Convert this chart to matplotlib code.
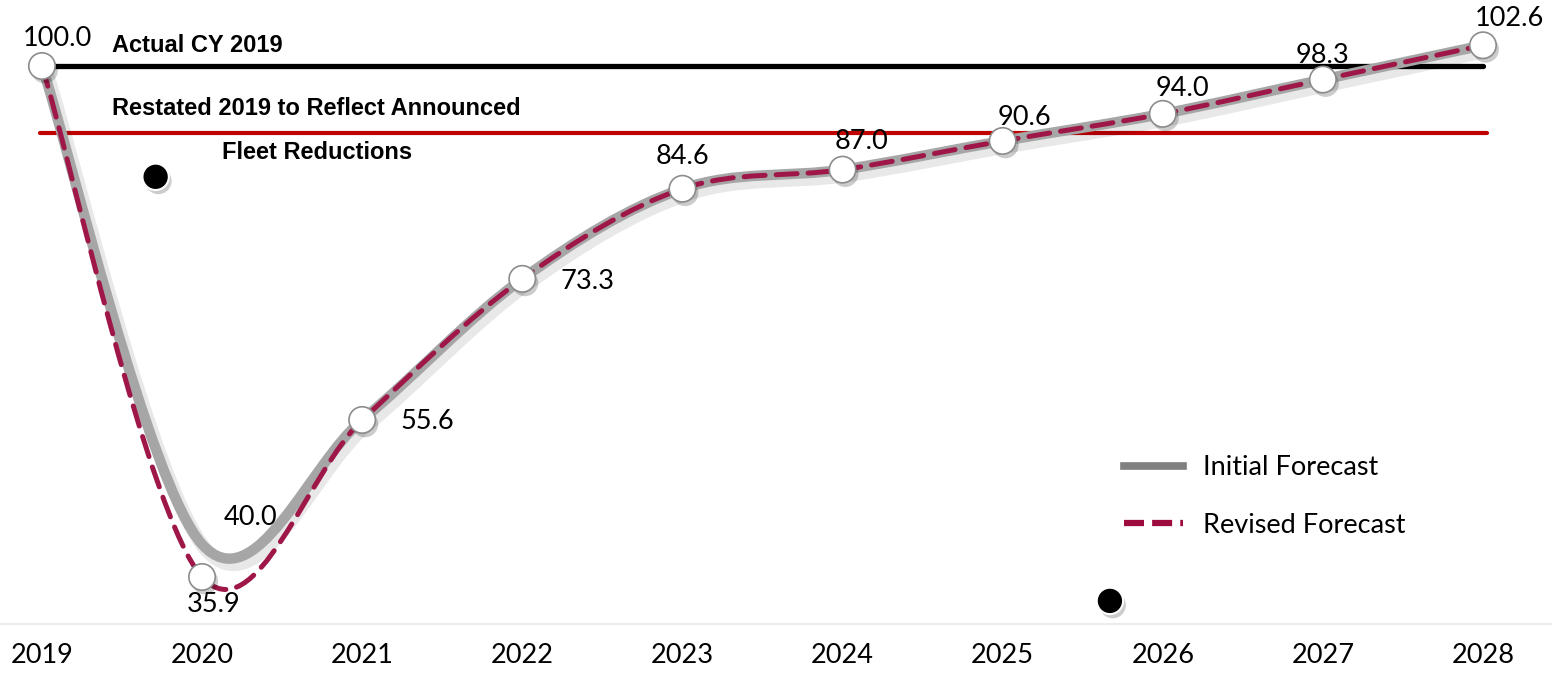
import numpy as np
import matplotlib.pyplot as plt
import matplotlib.patheffects as pe
from matplotlib.path import Path
from matplotlib.patches import PathPatch
from matplotlib.lines import Line2D

plt.rcParams['font.family'] = ['Lato', 'DejaVu Sans']

years = [2019, 2020, 2021, 2022, 2023, 2024, 2025, 2026, 2027, 2028]
initial = [100.0, 40.0, 55.6, 73.3, 84.6, 87.0, 90.6, 94.0, 98.3, 102.6]
revised = [100.0, 35.9, 55.6, 73.3, 84.6, 87.0, 90.6, 94.0, 98.3, 102.6]
actual_2019 = 100.0
restated_2019 = 91.6
dot_x = [2019.71, 2025.67]
dot_y = [86.1, 32.9]

# label offsets in points (dx, dy) for each revised point
rev_offsets = [(11, 20), (8, -20), (47, -1), (47, -2), (0, 23),
               (14, 20), (16, 17), (14, 18), (0, 17), (19, 19)]


def smooth_path(xs, ys):
    # Catmull-Rom style bezier through every point (spreadsheet "smoothed line")
    p = np.column_stack([xs, ys]).astype(float)
    n = len(p)
    verts = [p[0]]
    codes = [Path.MOVETO]
    for i in range(n - 1):
        p0 = p[max(i - 1, 0)]
        p1 = p[i]
        p2 = p[i + 1]
        p3 = p[min(i + 2, n - 1)]
        c1 = p1 + (p2 - p0) / 6.0
        c2 = p2 - (p3 - p1) / 6.0
        verts += [c1, c2, p2]
        codes += [Path.CURVE4] * 3
    return Path(verts, codes)


fig = plt.figure(figsize=(15.52, 6.82), dpi=100)
ax = fig.add_axes([0, 0.085, 1, 0.915])
ax.set_xlim(2018.738, 2028.431)
ax.set_ylim(30.0, 108.28)

for s in ['top', 'right', 'left']:
    ax.spines[s].set_visible(False)
ax.spines['bottom'].set_color('#e8e8e8')
ax.spines['bottom'].set_linewidth(1.2)
ax.set_yticks([])
ax.set_xticks(years)
ax.set_xticklabels([str(y) for y in years], fontsize=19.5)
ax.tick_params(axis='x', length=0, pad=14)

# reference lines
ax.plot([years[0], years[-1]], [actual_2019, actual_2019], color='black',
        lw=3.8, solid_capstyle='round', zorder=3)
ax.plot([years[0] - 0.01, years[-1] + 0.025], [restated_2019, restated_2019],
        color='#C00000', lw=3.0, solid_capstyle='round', zorder=3)

ax.text(2019.44, 102.6, 'Actual CY 2019', family='Liberation Sans',
        fontweight='bold', fontsize=17, va='center', ha='left')
ax.text(2019.44, 94.7, 'Restated 2019 to Reflect Announced',
        family='Liberation Sans', fontweight='bold', fontsize=17,
        va='center', ha='left')
ax.text(2020.72, 89.2, 'Fleet Reductions', family='Liberation Sans',
        fontweight='bold', fontsize=17, va='center', ha='center')

# initial forecast: thick smoothed gray line with soft shadow
gray = PathPatch(smooth_path(years, initial), fill=False, edgecolor='#a6a6a6',
                 lw=7.5, capstyle='round', joinstyle='round', zorder=4)
gray.set_path_effects([pe.SimpleLineShadow(offset=(3, -4), shadow_color='black',
                                           alpha=0.09, linewidth=10),
                       pe.Normal()])
ax.add_patch(gray)

# revised forecast: dashed smoothed line
rev = PathPatch(smooth_path(years, revised), fill=False, edgecolor='#9e1748',
                lw=3.6, linestyle=(0, (4.2, 2.2)), capstyle='round', zorder=5)
ax.add_patch(rev)

shadow = [pe.SimplePatchShadow(offset=(2, -3), shadow_rgbFace='black', alpha=0.2),
          pe.Normal()]
ax.plot(years, revised, linestyle='none', marker='o', markersize=19,
        markerfacecolor='white', markeredgecolor='#8c8c8c', markeredgewidth=1.2,
        zorder=6, path_effects=shadow)
ax.plot(dot_x, dot_y, linestyle='none', marker='o', markersize=19,
        markerfacecolor='black', markeredgecolor='white', markeredgewidth=1.5,
        zorder=6, path_effects=shadow, clip_on=False)

for x, v, off in zip(years, revised, rev_offsets):
    ax.annotate(f'{v:.1f}', (x, v), xytext=off, textcoords='offset points',
                ha='center', va='center', fontsize=19.5, zorder=7)
ax.annotate(f'{initial[1]:.1f}', (years[1], initial[1]), xytext=(35, 19),
            textcoords='offset points', ha='center', va='center',
            fontsize=19.5, zorder=7)

handles = [Line2D([], [], color='#808080', lw=5.5),
           Line2D([], [], color='#9e0b3e', lw=4.5, linestyle=(0, (3.2, 1.3)))]
ax.legend(handles, ['Initial Forecast', 'Revised Forecast'], loc='upper left',
          bbox_to_anchor=(1100 / 1552, 1 - 431 / 624), frameon=False,
          fontsize=19.5, handlelength=2.15, handletextpad=0.75, labelspacing=1.2)

fig.savefig('out.png', dpi=100)
